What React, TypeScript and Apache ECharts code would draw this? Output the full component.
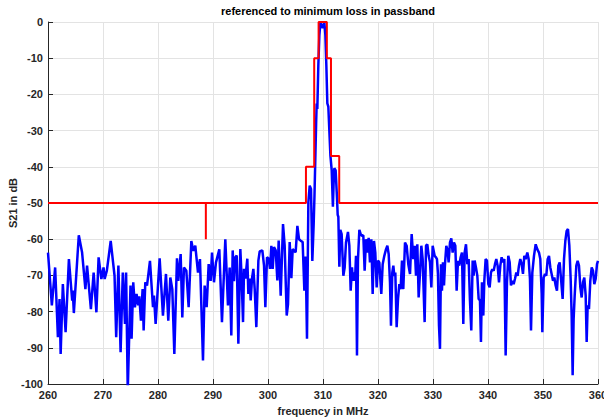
import React, { useEffect, useRef } from "react";
import * as echarts from "echarts";

const titleText = "referenced to minimum loss in passband";
const xLabel = "frequency in MHz";
const yLabel = "S21 in dB";

// Measured S21 trace (frequency in MHz)
const freqs: number[] = [
  260.0, 260.7, 261.3, 261.8, 262.1, 262.3, 262.7, 263.2, 263.8, 264.4, 264.5, 264.7,
  265.6, 266.2, 266.8, 267.1, 267.8, 268.3, 268.8, 269.2, 269.7, 270.1, 270.3, 270.7,
  271.4, 272.1, 272.4, 272.8, 273.2, 273.6, 274.0, 274.2, 274.5, 275.0, 275.2, 275.5,
  275.8, 276.1, 276.4, 276.6, 276.9, 277.2,
  277.39, 277.69, 278.0, 278.54, 279.09, 279.27, 279.57, 280.3, 280.9, 281.45, 281.87,
  282.24, 282.6, 282.97, 283.45, 283.69, 284.12, 284.42, 284.72, 285.15, 285.57, 286.06,
  286.42, 286.78, 287.27, 287.63, 288.18, 288.48, 288.85, 289.21, 289.57, 289.82, 290.18,
  290.54, 291.15, 291.63, 292.24, 292.72, 293.03, 293.33, 293.58,
  293.82, 294.06, 294.31, 294.61, 294.97, 295.21, 295.46, 295.64, 295.88, 296.24, 296.43,
  296.67, 296.85, 297.09, 297.34, 297.58, 297.88, 298.25, 298.49, 298.97, 299.28, 299.52,
  299.82, 300.12, 300.37, 300.61, 300.85, 301.09, 301.4, 301.7, 301.94, 302.31, 302.73,
  303.03, 303.4, 303.64, 303.94, 304.25, 304.49, 304.73, 305.03, 305.34, 305.64, 305.94,
  306.3, 306.61, 306.85, 307.09, 307.34, 307.58, 307.82, 308.06, 308.3, 308.45, 308.6,
  308.75, 308.85, 308.97, 309.15, 309.34, 309.52, 309.76, 309.94, 310.12, 310.24, 310.43,
  310.61, 310.79, 310.97, 311.21, 311.35, 311.58, 311.8, 311.92, 312.06, 312.3, 312.55,
  312.67, 312.79, 312.97, 313.15, 313.39, 313.7, 313.94, 314.18, 314.54, 314.79,
  315.03, 315.27, 315.45, 315.64, 315.82, 316.0, 316.18, 316.36, 316.61, 316.85, 317.09,
  317.33, 317.57, 317.82, 318.06, 318.3, 318.54, 318.79, 319.03, 319.27, 319.51, 319.76,
  320.0, 320.24, 320.42, 320.6, 320.85, 321.15, 321.45, 321.7, 321.94, 322.18, 322.36,
  322.6, 322.79, 322.97, 323.15, 323.39, 323.64, 323.88, 324.12, 324.36, 324.6, 324.91,
  325.21, 325.51, 325.82, 326.12, 326.42, 326.67, 326.91, 327.15, 327.39, 327.64, 327.88,
  328.12, 328.48, 328.73, 328.97, 329.21, 329.45, 329.7, 329.94, 330.3,
  330.54, 330.72, 330.9, 331.09, 331.27, 331.45, 331.63, 331.81, 332.0, 332.18, 332.42,
  332.66, 332.84, 333.09, 333.33, 333.57, 333.81, 334.06, 334.3, 334.54, 334.78, 335.03,
  335.27, 335.51, 335.75, 336.0, 336.24, 336.48, 336.72, 336.96, 337.21, 337.39, 337.57,
  337.81, 338.06, 338.3, 338.54, 338.72, 338.9, 339.15, 339.33, 339.57, 339.81, 340.06,
  340.3, 340.54, 340.78, 341.03, 341.27, 341.51, 341.75, 342.0, 342.24, 342.48, 342.72,
  342.97, 343.21, 343.45, 343.69, 343.94, 344.18, 344.42, 344.66, 344.9, 345.15, 345.39,
  345.63, 345.87, 346.12, 346.36, 346.6,
  346.85, 347.15, 347.39, 347.63, 347.82, 348.06, 348.36, 348.67, 348.97, 349.27, 349.51,
  349.76, 349.88, 350.12, 350.36, 350.6, 350.85, 351.09, 351.33, 351.57, 351.82, 352.06,
  352.3, 352.54, 352.79, 353.03, 353.33, 353.57, 353.82, 354.06, 354.3, 354.54, 354.79,
  355.03, 355.21, 355.39, 355.57, 355.76, 356.06, 356.3, 356.54, 356.79, 357.03, 357.27,
  357.51, 357.76, 357.94, 358.12, 358.36, 358.6, 358.85, 359.09, 359.33, 359.57, 359.82,
  360.0,
];

// S21 in dB, same order as freqs
const s21: number[] = [
  -63.7, -78.3, -67.8, -87.1, -76.5, -91.7, -72.4, -85.7, -65.5, -77.0, -74.2, -80.4,
  -58.9, -63.7, -73.8, -67.3, -79.3, -69.2, -80.2, -65.0, -71.0, -67.8, -71.0, -68.7,
  -60.5, -70.1, -87.1, -67.3, -91.2, -69.2, -83.4, -69.2, -102, -72.8, -87.5, -71.9,
  -78.8, -75.1, -78.3, -75.8, -82.5, -73.8,
  -85.2, -71.9, -72.8, -66.0, -78.8, -75.6, -83.4, -65.3, -81.1, -69.6, -82.5,
  -70.6, -73.8, -91.7, -65.3, -71.5, -64.1, -81.6, -67.8, -68.7, -78.8, -60.5,
  -63.2, -61.8, -69.2, -65.5, -93.5, -72.8, -78.8, -66.9, -71.5, -63.7, -71.9,
  -66.4, -62.8, -82.9, -60.0, -78.3, -67.8, -86.6, -63.1,
  -71.6, -65.0, -64.5, -88.9, -62.7, -70.9, -82.9, -68.2, -70.9, -65.4, -75.1,
  -70.9, -76.9, -70.9, -68.2, -73.7, -84.3, -65.9, -63.4, -63.1, -67.3, -78.8,
  -65.0, -65.4, -68.2, -61.8, -68.2, -62.2, -63.1, -71.4, -60.4, -75.6, -55.8,
  -61.8, -81.1, -77.9, -60.8, -70.8, -62.7, -63.2, -63.6, -56.3, -60.0, -60.4,
  -60.8, -74.2, -64.8, -87.5, -49.8, -45.2, -46.1, -66.0, -56.0, -48.0, -38.0,
  -28.0, -22.5, -24.0, -12.0, -3.6, -0.3, -0.8, -1.7, -0.8, 0.0, -3.6,
  -12.0, -22.5, -23.4, -32.0, -37.0, -40.9, -51.0, -45.0, -40.4, -41.0, -48.8,
  -53.3, -53.8, -67.6, -57.4, -58.6, -70.1, -67.8, -60.9, -58.0, -61.8,
  -74.2, -67.8, -71.5, -69.2, -71.5, -64.6, -92.1, -65.5, -57.4, -58.6, -59.1,
  -58.9, -68.7, -60.0, -63.7, -59.6, -66.4, -60.0, -75.1, -60.5, -63.7, -73.3,
  -65.9, -66.4, -71.0, -75.1, -66.9, -64.6, -62.8, -61.8, -64.1, -71.9, -83.9,
  -69.2, -67.3, -70.1, -69.2, -84.3, -76.5, -72.4, -73.8, -65.9, -73.8, -60.9,
  -61.8, -66.9, -69.6, -58.6, -65.5, -61.8, -70.1, -61.4, -76.1, -69.2, -61.8,
  -65.5, -82.9, -61.8, -61.4, -64.6, -66.4, -73.3, -61.8, -64.6,
  -65.0, -65.5, -69.6, -83.9, -90.3, -66.9, -74.2, -66.4, -72.8, -66.9, -61.8,
  -63.2, -66.4, -60.9, -59.8, -63.7, -60.9, -61.8, -74.2, -66.0, -67.3, -65.0,
  -63.7, -83.4, -63.7, -61.4, -66.9, -65.5, -76.9, -85.2, -65.9, -70.1, -65.9,
  -67.8, -70.1, -76.5, -76.9, -88.4, -71.9, -81.1, -71.5, -65.5, -65.9, -72.4,
  -73.3, -69.2, -68.3, -68.7, -66.9, -65.5, -67.3, -71.9, -67.3, -65.0, -66.4,
  -65.5, -92.1, -71.9, -64.6, -66.4, -72.8, -71.5, -72.4, -71.0, -69.2, -70.1,
  -67.3, -65.5, -66.9, -69.6, -64.6,
  -65.5, -63.7, -65.5, -71.0, -85.2, -69.2, -64.6, -61.4, -62.8, -63.7, -65.5,
  -75.1, -85.7, -70.6, -69.6, -70.1, -65.5, -64.6, -67.8, -69.6, -71.5, -70.6,
  -72.8, -74.2, -67.3, -66.4, -71.9, -76.5, -65.5, -60.5, -57.7, -57.2, -61.8,
  -71.0, -81.1, -97.6, -82.0, -75.6, -67.3, -66.0, -67.3, -73.3, -76.1, -71.9,
  -70.6, -75.6, -88.4, -78.3, -79.3, -71.5, -67.8, -68.7, -72.4, -71.0, -66.9,
  -66.0,
];

// Specification mask
const maskFreqs: number[] = [260, 288.7, 288.7, 288.7, 306.9, 306.9, 308.4, 308.4, 309.2, 309.2, 310.7, 310.7, 311.45, 311.45, 312.95, 312.95, 360];
const maskDb: number[] = [-50, -50, -60, -50, -50, -40, -40, -10, -10, 0, 0, -10, -10, -37, -37, -50, -50];

export default function App() {
  const ref = useRef<HTMLDivElement>(null);
  useEffect(() => {
    document.body.style.margin = "0";
    if (!ref.current) return;
    const chart = echarts.init(ref.current, undefined, { renderer: "svg" });
    const font = "'Liberation Sans', Arial, Helvetica, sans-serif";
    const axisCol = "#262626";
    const traceData = freqs.map((f, i) => [f, s21[i]]);
    const maskData = maskFreqs.map((f, i) => [f, maskDb[i]]);
    chart.setOption({
      animation: false,
      backgroundColor: "#ffffff",
      title: {
        text: titleText,
        left: 323,
        top: 0,
        textAlign: "center",
        textStyle: { fontFamily: font, fontSize: 11, fontWeight: "bold", color: "#000" },
      },
      graphic: [
        {
          type: "text",
          x: 13,
          y: 203,
          rotation: Math.PI / 2,
          style: {
            text: yLabel,
            fontFamily: font,
            fontSize: 11,
            fontWeight: "bold",
            fill: axisCol,
            align: "center",
            verticalAlign: "middle",
          },
        },
      ],
      grid: { left: 48, right: 6, top: 22, bottom: 35, containLabel: false, outerBoundsMode: "none" },
      xAxis: {
        type: "value",
        min: 260,
        max: 360,
        interval: 10,
        name: xLabel,
        nameLocation: "middle",
        nameGap: 21,
        nameMoveOverlap: false,
        nameTextStyle: { fontFamily: font, fontSize: 11, fontWeight: "bold", color: axisCol },
        axisLine: { show: true, onZero: false, lineStyle: { color: axisCol, width: 1 } },
        axisTick: { show: true, inside: true, length: 5, lineStyle: { color: axisCol } },
        axisLabel: { fontFamily: font, fontSize: 11, fontWeight: "bold", color: axisCol, margin: 5, showMinLabel: true, showMaxLabel: true, hideOverlap: false },
        splitLine: { show: true, lineStyle: { color: "#e3e3e3", width: 1 } },
      },
      yAxis: {
        type: "value",
        min: -100,
        max: 0,
        interval: 10,
        axisLine: { show: true, onZero: false, lineStyle: { color: axisCol, width: 1 } },
        axisTick: { show: true, inside: true, length: 5, lineStyle: { color: axisCol } },
        axisLabel: { fontFamily: font, fontSize: 11, fontWeight: "bold", color: axisCol, margin: 5, showMinLabel: true, showMaxLabel: true },
        splitLine: { show: true, lineStyle: { color: "#e3e3e3", width: 1 } },
      },
      series: [
        {
          type: "line",
          data: traceData,
          showSymbol: false,
          symbol: "none",
          clip: true,
          lineStyle: { color: "#0000ff", width: 2.5 },
          z: 2,
        },
        {
          type: "line",
          data: maskData,
          showSymbol: false,
          symbol: "none",
          clip: true,
          lineStyle: { color: "#ff0000", width: 2 },
          z: 3,
        },
      ],
    });
    return () => chart.dispose();
  }, []);
  return (
    <div
      ref={ref}
      style={{ position: "fixed", left: 0, top: 0, width: 604, height: 419, background: "#fff" }}
    />
  );
}
